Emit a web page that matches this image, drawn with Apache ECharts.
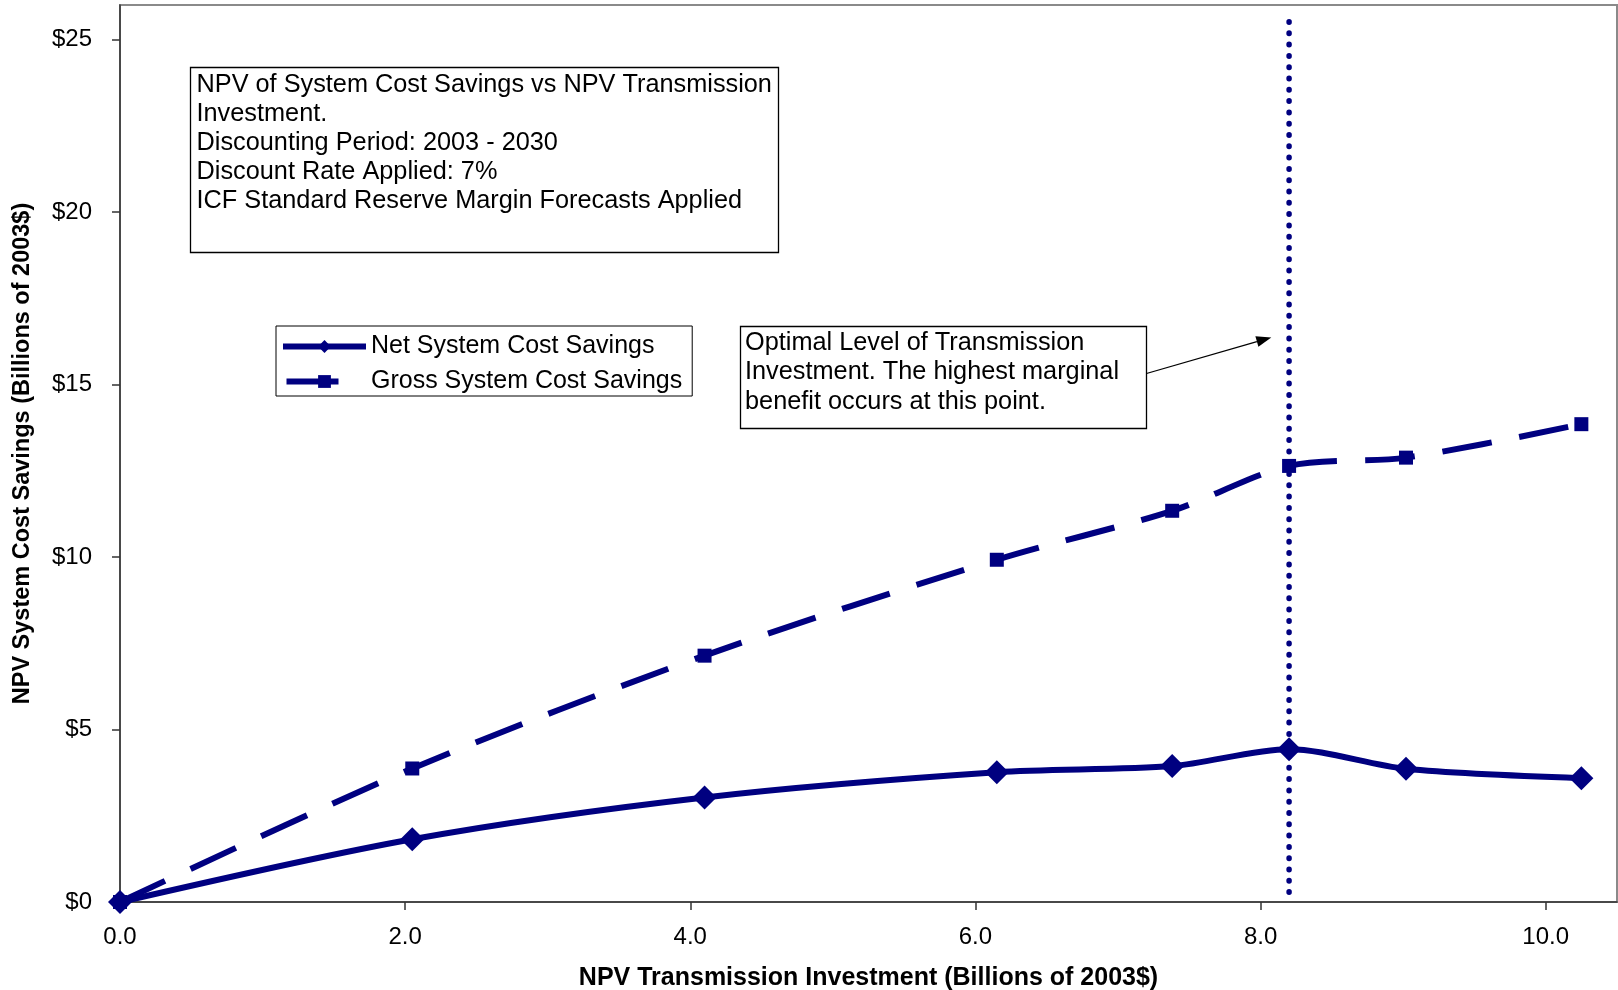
<!DOCTYPE html>
<html>
<head>
<meta charset="utf-8">
<title>NPV of System Cost Savings vs NPV Transmission Investment</title>
<script src="https://cdn.jsdelivr.net/npm/echarts@6/dist/echarts.min.js"></script>
<style>
  html, body { margin: 0; padding: 0; background: #fff; }
  #chart { width: 1618px; height: 990px; }
</style>
</head>
<body>
<div id="chart"></div>
<script>
// NPV transmission investment (billions of 2003$)
const investment = [0, 2.05, 4.10, 6.15, 7.38, 8.20, 9.02, 10.25];
// Net and gross NPV system cost savings (billions of 2003$)
const netSavings = [0, 1.82, 3.03, 3.76, 3.94, 4.43, 3.86, 3.59];
const grossSavings = [0, 3.87, 7.14, 9.92, 11.34, 12.64, 12.88, 13.85];

// Optimal investment level and the vertical extent of its reference line
const optimalInvestment = 8.2;
const optimalLineRange = [0.28, 25.56];

const xTicks = [0, 2, 4, 6, 8, 10];
const yTicks = [0, 5, 10, 15, 20, 25];

const seriesNames = ['Net System Cost Savings', 'Gross System Cost Savings'];
const xTitle = 'NPV Transmission Investment (Billions of 2003$)';
const yTitle = 'NPV System Cost Savings (Billions of 2003$)';
const noteLines = [
  'NPV of System Cost Savings vs NPV Transmission',
  'Investment.',
  'Discounting Period: 2003 - 2030',
  'Discount Rate Applied: 7%',
  'ICF Standard Reserve Margin Forecasts Applied'
];
const optimalNoteLines = [
  'Optimal Level of Transmission',
  'Investment. The highest marginal',
  'benefit occurs at this point.'
];

const FONT = '"Liberation Sans", Arial, sans-serif';
const NAVY = '#000080';

const pairs = (xs, ys) => xs.map((x, i) => [x, ys[i]]);

// Callout arrow: shaft plus a filled triangular head at (x2, y2)
function arrowGraphic(x1, y1, x2, y2, len, halfW) {
  const dx = x2 - x1, dy = y2 - y1;
  const d = Math.hypot(dx, dy);
  const ux = dx / d, uy = dy / d;
  const bx = x2 - ux * len, by = y2 - uy * len;
  const px = -uy, py = ux;
  return [
    { type: 'line', shape: { x1: x1, y1: y1, x2: bx, y2: by },
      style: { stroke: '#000', lineWidth: 1.3 } },
    { type: 'polygon', shape: { points: [[x2, y2], [bx + px * halfW, by + py * halfW], [bx - px * halfW, by - py * halfW]] },
      style: { fill: '#000' } }
  ];
}

const chart = echarts.init(document.getElementById('chart'), null, { renderer: 'canvas' });

chart.setOption({
  animation: false,
  backgroundColor: '#fff',
  grid: {
    left: 120, right: 1, top: 5, bottom: 88,
    outerBoundsMode: 'none',
    containLabel: false,
    show: true, borderColor: '#8a8a8a', borderWidth: 2, backgroundColor: 'transparent'
  },
  legend: {
    orient: 'vertical',
    left: 276, top: 326,
    padding: [8, 10, 2, 4],
    itemWidth: 83, itemHeight: 16, itemGap: 10,
    borderColor: '#000', borderWidth: 1, backgroundColor: '#fff',
    textStyle: { fontFamily: FONT, fontSize: 25, color: '#000', lineHeight: 25 },
    data: [
      { name: seriesNames[0], lineStyle: { width: 6, color: NAVY, type: 'solid' } },
      { name: seriesNames[1], lineStyle: { width: 6, color: NAVY, type: [0, 3.5, 52, 100], cap: 'butt' } }
    ]
  },
  xAxis: {
    type: 'value',
    min: 0, max: 10.5,
    name: xTitle,
    nameLocation: 'middle',
    nameGap: 64,
    nameTextStyle: { fontFamily: FONT, fontSize: 25, fontWeight: 'bold', color: '#000' },
    axisLine: { show: true, lineStyle: { color: '#333', width: 1.5 } },
    axisTick: { show: true, inside: false, length: 8, customValues: xTicks, lineStyle: { color: '#333', width: 1.5 } },
    axisLabel: {
      customValues: xTicks, margin: 23,
      fontFamily: FONT, fontSize: 24, color: '#000',
      formatter: v => Number(v).toFixed(1)
    },
    splitLine: { show: false }
  },
  yAxis: {
    type: 'value',
    min: 0, max: 26,
    name: yTitle,
    nameLocation: 'middle',
    nameGap: 85,
    nameTextStyle: { fontFamily: FONT, fontSize: 23.5, fontWeight: 'bold', color: '#000' },
    axisLine: { show: true, lineStyle: { color: '#333', width: 1.5 } },
    axisTick: { show: true, inside: false, length: 8, customValues: yTicks, lineStyle: { color: '#333', width: 1.5 } },
    axisLabel: {
      customValues: yTicks, margin: 28,
      fontFamily: FONT, fontSize: 24, color: '#000',
      formatter: v => '$' + v
    },
    splitLine: { show: false }
  },
  series: [
    {
      name: seriesNames[1],
      type: 'line',
      data: pairs(investment, grossSavings),
      smooth: 0.3,
      clip: false,
      z: 3,
      symbol: 'rect',
      symbolSize: 14,
      itemStyle: { color: NAVY },
      lineStyle: { color: NAVY, width: 6, type: [50, 28], cap: 'butt' }
    },
    {
      name: seriesNames[0],
      type: 'line',
      data: pairs(investment, netSavings),
      smooth: 0.3,
      clip: false,
      z: 4,
      symbol: 'diamond',
      symbolSize: 24,
      itemStyle: { color: NAVY },
      lineStyle: { color: NAVY, width: 6, type: 'solid' }
    },
    {
      name: 'optimal',
      type: 'line',
      data: optimalLineRange.map(y => [optimalInvestment, y]),
      symbol: 'none',
      silent: true,
      z: 2,
      lineStyle: { color: NAVY, width: 5.5, type: [0.5, 10.8], cap: 'round' }
    }
  ],
  graphic: [
    { type: 'rect', shape: { x: 190.5, y: 67.5, width: 588, height: 185 },
      style: { fill: '#fff', stroke: '#000', lineWidth: 1.3 }, z: 10 },
    { type: 'text', x: 196.5, y: 70.8, z: 11,
      style: { text: noteLines.join('\n'), font: '25.3px ' + FONT, lineHeight: 29, fill: '#000' } },
    { type: 'rect', shape: { x: 740.5, y: 326.5, width: 406, height: 102 },
      style: { fill: '#fff', stroke: '#000', lineWidth: 1.3 }, z: 10 },
    { type: 'text', x: 745, y: 328.3, z: 11,
      style: { text: optimalNoteLines.join('\n'), font: '25.3px ' + FONT, lineHeight: 29.4, fill: '#000' } },
    ...arrowGraphic(1146.5, 373.5, 1271.3, 337.4, 15, 5.5)
  ]
});
</script>
</body>
</html>
